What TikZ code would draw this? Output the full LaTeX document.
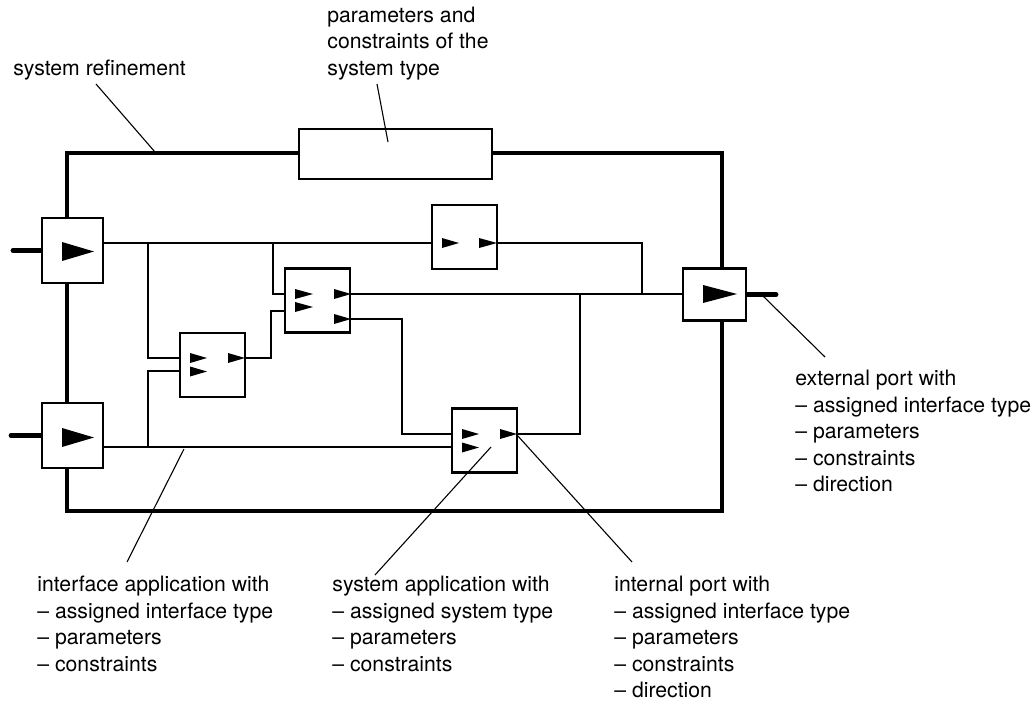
\documentclass[tikz,border=0pt]{standalone}
\usepackage{fontspec}
\setmainfont{TeX Gyre Heros}
\tikzset{
  frame/.style={line width=2.4pt},
  wire/.style={line width=1.4pt},
  stub/.style={line width=2.4pt,line cap=round},
  leader/.style={line width=0.55pt},
  portbox/.style={draw,fill=white,line width=1.4pt,minimum width=30.5pt,minimum height=32.5pt,inner sep=0pt},
  sysbox/.style={draw,fill=white,line width=1.4pt,minimum width=32.5pt,minimum height=32pt,inner sep=0pt},
  lbl/.style={inner sep=0pt,align=left,font={\fontsize{10.6pt}{13.25pt}\selectfont}}
}
\begin{document}
\begin{tikzpicture}[x=0.5pt,y=-0.5pt]
 \useasboundingbox (0,0) rectangle (1034,702);
 % system refinement frame
 \draw[frame] (67,153) rectangle (722,511);
 % pins
 \coordinate (aO) at (103,243);   \coordinate (bO) at (103,447);
 \coordinate (sAi) at (432,243);  \coordinate (sAo) at (497,243);
 \coordinate (sBi1) at (285,294); \coordinate (sBi2) at (285,311);
 \coordinate (sBo1) at (350,294); \coordinate (sBo2) at (350,319);
 \coordinate (sCi1) at (180,358); \coordinate (sCi2) at (180,371);
 \coordinate (sCo) at (245,358);
 \coordinate (sDi1) at (452,434); \coordinate (sDi2) at (452,447);
 \coordinate (sDo) at (517,434);
 \coordinate (cI) at (683,294);
 \coordinate (t1) at (148,243); \coordinate (t2) at (148,447);
 \coordinate (t3) at (273,243);
 \coordinate (j1) at (642,294); \coordinate (j2) at (580,294);
 % interface applications
 \draw[wire] (aO) -- (sAi);
 \draw[wire] (sAo) -| (j1);
 \draw[wire] (sBo1) -- (cI);
 \draw[wire] (t1) |- (sCi1);
 \draw[wire] (t2) |- (sCi2);
 \draw[wire] (sCo) -- ++(26,0) |- (sBi2);
 \draw[wire] (t3) |- (sBi1);
 \draw[wire] (sBo2) -- ++(52,0) |- (sDi1);
 \draw[wire] (bO) -- (sDi2);
 \draw[wire] (sDo) -| (j2);
 % parameters box
 \node[draw,fill=white,line width=1.4pt,minimum width=96.5pt,minimum height=25pt] (par) at (395.5,154) {};
 % external ports
 \node[portbox] (pA) at (72.5,250.5) {};
 \node[portbox] (pB) at (72.5,435.5) {};
 \node[portbox,minimum width=31.5pt,minimum height=26pt] (pC) at (714.5,294.5) {};
 \coordinate (aS) at (13,250.5); \coordinate (bS) at (11,435.5); \coordinate (cS) at (776,294.5);
 \draw[stub] (aS) -- (pA.west);
 \draw[stub] (bS) -- (pB.west);
 \draw[stub] (pC.east) -- (cS);
 \fill (62,242)--(62,261)--(94,251.5)--cycle;
 \fill (62,428)--(62,447)--(94,437.5)--cycle;
 \fill (703,285)--(703,303)--(737,294)--cycle;
 % system applications
 \node[sysbox] (sA) at (464.5,237) {};
 \node[sysbox] (sB) at (317.5,300.5) {};
 \node[sysbox] (sC) at (212.5,365) {};
 \node[sysbox] (sD) at (484.5,440.5) {};
 \fill (442,238)--(442,248)--(459,243)--cycle;
 \fill (479,238)--(479,248)--(497,243)--cycle;
 \fill (295,289)--(295,299)--(313,294)--cycle;
 \fill (295,302)--(295,312)--(313,307)--cycle;
 \fill (334,289)--(334,299)--(351,294)--cycle;
 \fill (334,314)--(334,324)--(351,319)--cycle;
 \fill (190,353)--(190,363)--(207,358)--cycle;
 \fill (190,366.5)--(190,376.5)--(207,371.5)--cycle;
 \fill (228,353)--(228,363)--(245,358)--cycle;
 \fill (462,429)--(462,439)--(479,434)--cycle;
 \fill (462,442.5)--(462,452.5)--(479,447.5)--cycle;
 \fill (500,429)--(500,439)--(517,434)--cycle;
 % labels
 \node[lbl,anchor=base west] (refine) at (13,75) {system refinement};
 \node[lbl,anchor=north west] (params) at (327,6.5) {parameters and\\constraints of the\\system type};
 \node[lbl,anchor=north west] (iface) at (37,576) {interface application with\\– assigned interface type\\– parameters\\– constraints};
 \node[lbl,anchor=north west] (sysapp) at (332,576) {system application with\\– assigned system type\\– parameters\\– constraints};
 \node[lbl,anchor=north west] (intport) at (614,576) {internal port with\\– assigned interface type\\– parameters\\– constraints\\– direction};
 \node[lbl,anchor=north west] (extport) at (795,369.7) {external port with\\– assigned interface type\\– parameters\\– constraints\\– direction};
 % leaders
 \coordinate (lr) at (96,84);   \coordinate (lr2) at (155,152);
 \coordinate (lp) at (377,84);  \coordinate (lp2) at (388,142);
 \coordinate (li) at (127,562); \coordinate (li2) at (184,449);
 \coordinate (ls) at (375,575); \coordinate (ls2) at (491,447);
 \coordinate (ln) at (632,562); \coordinate (ln2) at (517,435);
 \coordinate (le) at (825,357); \coordinate (le2) at (763,296);
 \draw[leader] (lr) -- (lr2);
 \draw[leader] (lp) -- (lp2);
 \draw[leader] (li) -- (li2);
 \draw[leader] (ls) -- (ls2);
 \draw[leader] (ln) -- (ln2);
 \draw[leader] (le) -- (le2);
\end{tikzpicture}
\end{document}
